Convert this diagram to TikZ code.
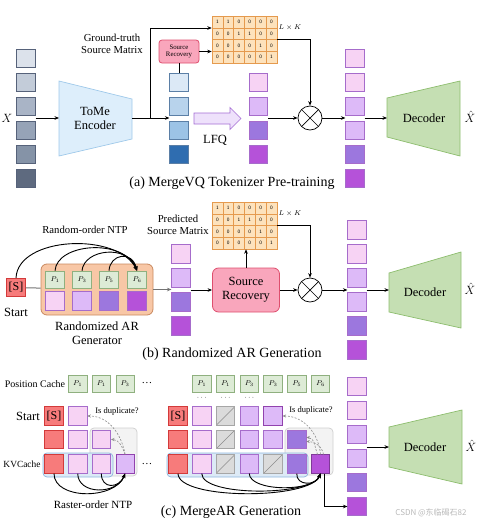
\documentclass[tikz,border=0pt]{standalone}
\usepackage{fontspec}
\setmainfont{Liberation Serif}
\newfontfamily\cjkfont{Noto Sans CJK SC}
\usetikzlibrary{arrows.meta}

\definecolor{x-1}{HTML}{DCE2EB}
\definecolor{x-2}{HTML}{C3CCD9}
\definecolor{x-3}{HTML}{A9B4C6}
\definecolor{x-4}{HTML}{96A3B7}
\definecolor{x-5}{HTML}{8593A7}
\definecolor{x-6}{HTML}{5E6A7F}
\definecolor{x-edge}{HTML}{56627A}
\definecolor{q-1}{HTML}{DCE9F6}
\definecolor{q-2}{HTML}{B8D3EC}
\definecolor{q-3}{HTML}{9CC3E6}
\definecolor{q-4}{HTML}{2F6DB0}
\definecolor{q-edge}{HTML}{5B7FA6}
\definecolor{tok-pink}{HTML}{F7D3F4}
\definecolor{tok-lav}{HTML}{DDBAF8}
\definecolor{tok-mid}{HTML}{9C77DE}
\definecolor{tok-mag}{HTML}{B552D9}
\definecolor{tok-edge}{HTML}{A66CCB}
\definecolor{s-fill}{HTML}{F77B7B}
\definecolor{s-edge}{HTML}{D33A3A}
\definecolor{p-fill}{HTML}{DDEBD6}
\definecolor{p-edge}{HTML}{8FB07F}
\definecolor{gen-fill}{HTML}{F8C7A6}
\definecolor{gen-edge}{HTML}{C9895F}
\definecolor{sr-fill}{HTML}{F9A6BC}
\definecolor{sr-edge}{HTML}{DE4F6E}
\definecolor{mat-fill}{HTML}{FDE2BC}
\definecolor{mat-edge}{HTML}{E59A4E}
\definecolor{enc-fill}{HTML}{DDEEFB}
\definecolor{enc-edge}{HTML}{9FC9EA}
\definecolor{dec-fill}{HTML}{C5DFB3}
\definecolor{dec-edge}{HTML}{8DBD6E}
\definecolor{lfq-fill}{HTML}{EEE1FB}
\definecolor{lfq-edge}{HTML}{A56FD4}
\definecolor{kv-fill}{HTML}{DDEAF6}
\definecolor{kv-edge}{HTML}{8DB5DE}
\definecolor{dup-fill}{HTML}{F3F3F3}
\definecolor{dup-edge}{HTML}{CFCFCF}

% 4x6 source matrix: #1 name, (#2,#3) top-left corner
\newcommand{\srcmatrix}[3]{%
  \foreach \row [count=\r] in {{1,1,0,0,0,0},{0,0,1,1,0,0},{0,0,0,0,1,0},{0,0,0,0,0,1}} {
    \foreach \v [count=\c] in \row {
      \node[matcell] (#1-\r-\c) at (#2+10.8*\c-5.4, #3+11.75*\r-5.875) {\v};
    }
  }%
}

\begin{document}
\begin{tikzpicture}[x=1pt, y=-1pt, >={Stealth[length=4.5pt,width=3.6pt]},
      every node/.style={font=\fontsize{10.7}{12.5}\selectfont},
      bigtext/.style={font=\fontsize{12.5}{14}\selectfont},
      captext/.style={font=\fontsize{14}{16}\selectfont},
      conn/.style={line width=0.7pt},
      gline/.style={draw=black!55, line width=1pt},
      tok/.style={draw=tok-edge, line width=0.6pt, minimum width=18.5pt,
                  minimum height=18.5pt, inner sep=0pt},
      stok/.style={tok, draw=s-edge, fill=s-fill, font=\fontsize{12}{14}\selectfont},
      mtok/.style={tok, draw=black!35, fill=black!14,
                   path picture={\draw[black!45, line width=0.6pt]
                     (path picture bounding box.south west) -- (path picture bounding box.north east);}},
      ptok/.style={draw=p-edge, fill=p-fill, line width=0.6pt, minimum width=18.5pt,
                   minimum height=17pt, inner sep=0pt, font=\fontsize{7.5}{8}\selectfont},
      matcell/.style={draw=mat-edge, fill=mat-fill, line width=0.5pt, minimum width=10.8pt,
                      minimum height=11.75pt, inner sep=0pt, font=\sffamily\fontsize{5}{5}\selectfont},
      srbox/.style={draw=sr-edge, fill=sr-fill, line width=0.8pt, align=center},
      mulop/.style={circle, draw, line width=0.7pt, minimum size=24pt, inner sep=0pt,
                    path picture={\draw[line width=0.7pt]
                      (path picture bounding box.north west) -- (path picture bounding box.south east)
                      (path picture bounding box.north east) -- (path picture bounding box.south west);}},
      dup/.style={draw=black!45, line width=0.6pt, dash pattern=on 2pt off 1.5pt,
                  -{Stealth[length=3.5pt,width=3pt]}},
      ntp/.style={line width=0.9pt, ->}]
    \useasboundingbox (0,0) rectangle (480,525);

    % ---------- (a) tokenizer pre-training ----------
    \foreach \col [count=\i] in {x-1,x-2,x-3,x-4,x-5,x-6} {
      \node[tok, draw=x-edge, fill=\col] (xa\i) at (26, 34.5+24*\i) {};
    }
    \node[bigtext] (xlab) at (7,118) {$X$};

    \draw[fill=enc-fill, draw=enc-edge, line width=0.7pt]
      (59,81) -- (132,99) -- (132,139) -- (59,156) -- cycle;
    \node[bigtext, align=center] (enc) at (95,118) {ToMe\\Encoder};
    \coordinate (encin) at (59,118);
    \coordinate (encout) at (132,118);
    \coordinate (split) at (150,118);
    \draw[->, conn] (xa3.south east |- encin) -- (encin);

    \foreach \col [count=\i] in {q-1,q-2,q-3,q-4} {
      \node[tok, draw=q-edge, fill=\col] (qa\i) at (179, 58.5+24*\i) {};
    }
    \draw[conn] (encout) -- (split);
    \draw[->, conn] (split) -- (qa2.south west |- split);

    \srcmatrix{gtm}{212}{16}
    \node[align=center] (gtlab) at (112,44) {Ground-truth\\Source Matrix};
    \node[font=\fontsize{7}{8}\selectfont] (gtdim) at (290,28) {$L\times K$};
    \draw[->, conn] (split) |- (gtm-1-1.south west);

    \node[srbox, rounded corners=3pt, minimum width=40pt, minimum height=23pt, inner sep=1pt,
          font=\fontsize{6.8}{7.5}\selectfont] (srA) at (179,51.5) {Source\\Recovery};
    \draw[->, conn] (srA.east) -- (srA.east -| gtm-3-1.west);
    \draw[conn] (srA.south) -- (qa1.north);

    % LFQ block arrow
    \draw[fill=lfq-fill, draw=lfq-edge, line width=0.7pt]
      (194,113) -- (230,113) -- (230,107.5) -- (241,118.5) -- (230,129.5) -- (230,124) -- (194,124) -- cycle;
    \node[bigtext] (lfq) at (215,140) {LFQ};

    \foreach \col [count=\i] in {tok-pink,tok-lav,tok-mid,tok-mag} {
      \node[tok, fill=\col] (pa\i) at (258.5, 58.5+24*\i) {};
    }
    \node[mulop] (mulA) at (310,118) {};
    \draw[->, conn] (pa2.south east |- mulA) -- (mulA);
    \draw[->, conn] (gtm-2-6.south east) -| (mulA.north);

    \foreach \col [count=\i] in {tok-pink,tok-pink,tok-lav,tok-lav,tok-mid,tok-mag} {
      \node[tok, fill=\col] (ra\i) at (355, 34.5+24*\i) {};
    }
    \draw[->, conn] (mulA) -- (ra3.south west |- mulA);

    \draw[fill=dec-fill, draw=dec-edge, line width=0.7pt]
      (387,98) -- (460,81) -- (460,156) -- (387,137) -- cycle;
    \node[bigtext] (decA) at (424,118) {Decoder};
    \coordinate (decAin) at (387,118);
    \draw[->, conn] (ra3.south east |- decAin) -- (decAin);
    \node[bigtext] (xhatA) at (470,117) {$\hat{X}$};
    \node[captext] (capA) at (232,183) {(a) MergeVQ Tokenizer Pre-training};

    % ---------- (b) randomized AR generation ----------
    \node[stok] (sb) at (16,287.5) {[S]};
    \node[bigtext] (startb) at (16,312) {Start};
    \node[draw=gen-edge, fill=gen-fill, line width=0.8pt, rounded corners=6pt,
          minimum width=112pt, minimum height=51pt] (gen) at (97,289.5) {};
    \foreach \p/\x [count=\i] in {1/55,3/82,5/109,6/137} {
      \node[ptok] (gp\i) at (\x,279.5) {$P_{\p}$};
    }
    \foreach \col/\x [count=\i] in {tok-pink/55,tok-lav/82,tok-mid/109,tok-mag/137} {
      \node[tok, fill=\col] (gt\i) at (\x,301) {};
    }
    \node[bigtext, align=center] (genlab) at (97,333) {Randomized AR\\Generator};
    \draw[gline] (sb) -- (gen);

    % random-order next-token arcs
    \draw[ntp] (sb.north) .. controls (18,236) and (118,232) .. (gp4.north);
    \draw[ntp] (gp1.north) .. controls (57,243) and (124,238) .. (gp4.north);
    \draw[ntp] (gp2.north) .. controls (84,249) and (128,244) .. (gp4.north);
    \draw[ntp] (gp3.north) .. controls (110,254) and (132,250) .. (gp4.north);
    \node (ntplab) at (85,230) {Random-order NTP};

    \foreach \col [count=\i] in {tok-pink,tok-lav,tok-mid,tok-mag} {
      \node[tok, fill=\col] (pb\i) at (181, 230+24*\i) {};
    }
    \draw[->, gline] (gen) -- (pb2.south west |- gen);
    \node[align=center] (pdlab) at (178,225) {Predicted\\Source Matrix};

    \node[srbox, rounded corners=6pt, minimum width=67pt, minimum height=44pt, bigtext] (srB) at (246,290) {Source\\Recovery};
    \draw[->, conn] (pb2.south east |- srB) -- (srB);
    \srcmatrix{pdm}{212}{202}
    \node[font=\fontsize{7}{8}\selectfont] (pddim) at (290,214) {$L\times K$};
    \draw[->, conn] (srB.north) -- (srB.north |- pdm-4-1.south);

    \node[mulop] (mulB) at (310,290) {};
    \draw[->, conn] (srB) -- (mulB);
    \draw[->, conn] (pdm-2-6.south east) -| (mulB.north);

    \foreach \col [count=\i] in {tok-pink,tok-pink,tok-lav,tok-lav,tok-mid,tok-mag} {
      \node[tok, fill=\col] (rb\i) at (357, 206+24*\i) {};
    }
    \draw[->, conn] (mulB) -- (rb3.south west |- mulB);
    \draw[fill=dec-fill, draw=dec-edge, line width=0.7pt]
      (389,273) -- (461,252) -- (461,328) -- (389,312) -- cycle;
    \node[bigtext] (decB) at (425,292) {Decoder};
    \coordinate (decBin) at (389,290);
    \draw[->, conn] (rb3.south east |- decBin) -- (decBin);
    \node[bigtext] (xhatB) at (470,289) {$\hat{X}$};
    \node[captext] (capB) at (232,354) {(b) Randomized AR Generation};

    % ---------- (c) MergeAR generation ----------
    \node[font=\fontsize{10}{12}\selectfont] (poscache) at (35,384) {Position Cache};
    \foreach \p [count=\i] in {1,1,3} {
      \node[ptok] (lp\i) at (54+23.7*\i, 384) {$P_{\p}$};
    }
    \node (ldotsA) at (147,383) {\dots};

    \draw[draw=dup-edge, fill=dup-fill, line width=0.7pt, rounded corners=4pt] (90,428) rectangle (137,476);
    \draw[draw=kv-edge, fill=kv-fill, line width=0.7pt, rounded corners=4pt] (43,453) rectangle (113,477);
    \node[bigtext] (startc) at (28,416) {Start};
    \node[font=\fontsize{9.4}{11}\selectfont] (kvlab) at (22,464) {KVCache};
    \node[stok] (cl-1-1) at (54,416) {[S]};
    \node[tok, fill=tok-pink] (cl-1-2) at (77.7,416) {};
    \node[tok, draw=s-edge, fill=s-fill] (cl-2-1) at (54,439.5) {};
    \node[tok, fill=tok-pink] (cl-2-2) at (77.7,439.5) {};
    \node[tok, fill=tok-pink] (cl-2-3) at (101.4,439.5) {};
    \node[tok, draw=s-edge, fill=s-fill] (cl-3-1) at (54,464) {};
    \node[tok, fill=tok-pink] (cl-3-2) at (77.7,464) {};
    \node[tok, fill=tok-pink] (cl-3-3) at (101.4,464) {};
    \node[tok, fill=tok-lav, draw=tok-mag!80!black] (cl-3-4) at (125.1,464) {};
    \node (ldotsB) at (147,464) {\dots};

    \node[font=\fontsize{8.5}{10}\selectfont] (duplabL) at (117,411) {Is duplicate?};
    \draw[dup] (cl-3-4.north) to[out=100,in=0] (cl-1-2.east);
    \draw[dup] (cl-3-4.north) to[out=110,in=0] (cl-2-3.east);

    \draw[ntp] (cl-3-1.south) .. controls (54,500) and (115,500) .. (cl-3-4.south);
    \draw[ntp] (cl-3-2.south) .. controls (78,495) and (117,495) .. (cl-3-4.south);
    \draw[ntp] (cl-3-3.south) .. controls (101,489) and (119,489) .. (cl-3-4.south);
    \node[font=\fontsize{11}{13}\selectfont] (rasterlab) at (93,505) {Raster-order NTP};

    % merged tokens on the right
    \foreach \p [count=\i] in {1,1,3,3,5,6} {
      \node[ptok] (rp\i) at (178+23.75*\i, 384) {$P_{\p}$};
    }
    \foreach \i in {1,2,3} {
      \node[font=\fontsize{7}{8}\selectfont] (rdots\i) at (178+23.75*\i, 398) {$\cdots$};
    }
    \draw[draw=dup-edge, fill=dup-fill, line width=0.7pt, rounded corners=4pt] (285,428) rectangle (333,475);
    \draw[draw=kv-edge, fill=kv-fill, line width=0.7pt, rounded corners=4pt] (167,453) rectangle (308,477);

    \node[stok] (cr-1-1) at (178,416) {[S]};
    \node[tok, fill=tok-pink] (cr-1-2) at (201.75,416) {};
    \node[mtok] (cr-1-3) at (225.5,416) {};
    \node[tok, fill=tok-lav] (cr-1-4) at (249.25,416) {};
    \node[tok, fill=tok-lav, draw=tok-mag!80!black] (cr-1-5) at (273,416) {};

    \node[tok, draw=s-edge, fill=s-fill] (cr-2-1) at (178,439.5) {};
    \node[tok, fill=tok-pink] (cr-2-2) at (201.75,439.5) {};
    \node[mtok] (cr-2-3) at (225.5,439.5) {};
    \node[tok, fill=tok-lav] (cr-2-4) at (249.25,439.5) {};
    \node[tok, fill=tok-lav] (cr-2-5) at (273,439.5) {};
    \node[tok, fill=tok-mid] (cr-2-6) at (296.75,439.5) {};

    \node[tok, draw=s-edge, fill=s-fill] (cr-3-1) at (178,464) {};
    \node[tok, fill=tok-pink] (cr-3-2) at (201.75,464) {};
    \node[mtok] (cr-3-3) at (225.5,464) {};
    \node[tok, fill=tok-lav] (cr-3-4) at (249.25,464) {};
    \node[mtok] (cr-3-5) at (273,464) {};
    \node[tok, fill=tok-mid] (cr-3-6) at (296.75,464) {};
    \node[tok, fill=tok-mag, draw=tok-mag!70!black] (cr-3-7) at (320.5,464) {};

    \node[font=\fontsize{8.5}{10}\selectfont] (duplabR) at (311,410) {Is duplicate?};
    \draw[dup] (cr-3-7.north) to[out=95,in=0] (cr-1-5.east);
    \draw[dup] ([xshift=-3pt]cr-3-7.north) to[out=110,in=0] ([yshift=2pt]cr-2-6.east);
    \draw[dup] ([xshift=3pt]cr-3-7.north) to[out=100,in=0] ([yshift=-2pt]cr-2-6.east);

    \draw[ntp] (cr-3-1.south) .. controls (178,500) and (310,500) .. (cr-3-7.south);
    \draw[ntp] (cr-3-2.south) .. controls (202,497) and (312,496) .. (cr-3-7.south);
    \draw[ntp] (cr-3-4.south) .. controls (250,492) and (314,492) .. (cr-3-7.south);
    \draw[ntp] (cr-3-6.south) .. controls (296,486) and (316,486) .. (cr-3-7.south);

    \foreach \col [count=\i] in {tok-pink,tok-pink,tok-lav,tok-lav,tok-mid,tok-mag} {
      \node[tok, fill=\col] (rc\i) at (357, 362.5+24*\i) {};
    }
    \draw[->, conn] ([xshift=4pt]cr-3-7.south) |- (rc6.west);

    \draw[fill=dec-fill, draw=dec-edge, line width=0.7pt]
      (389,427) -- (462,410) -- (462,484) -- (389,467) -- cycle;
    \node[bigtext] (decC) at (425,447) {Decoder};
    \coordinate (decCin) at (389,447);
    \draw[->, conn] (rc3.south east |- decCin) -- (decCin);
    \node[bigtext] (xhatC) at (471,446) {$\hat{X}$};
    \node[captext] (capC) at (231,512) {(c) MergeAR Generation};

    \node[font=\cjkfont\fontsize{8}{9}\selectfont, text=black!28] (mark) at (431,513) {CSDN @东临碣石82};
  \end{tikzpicture}
\end{document}
